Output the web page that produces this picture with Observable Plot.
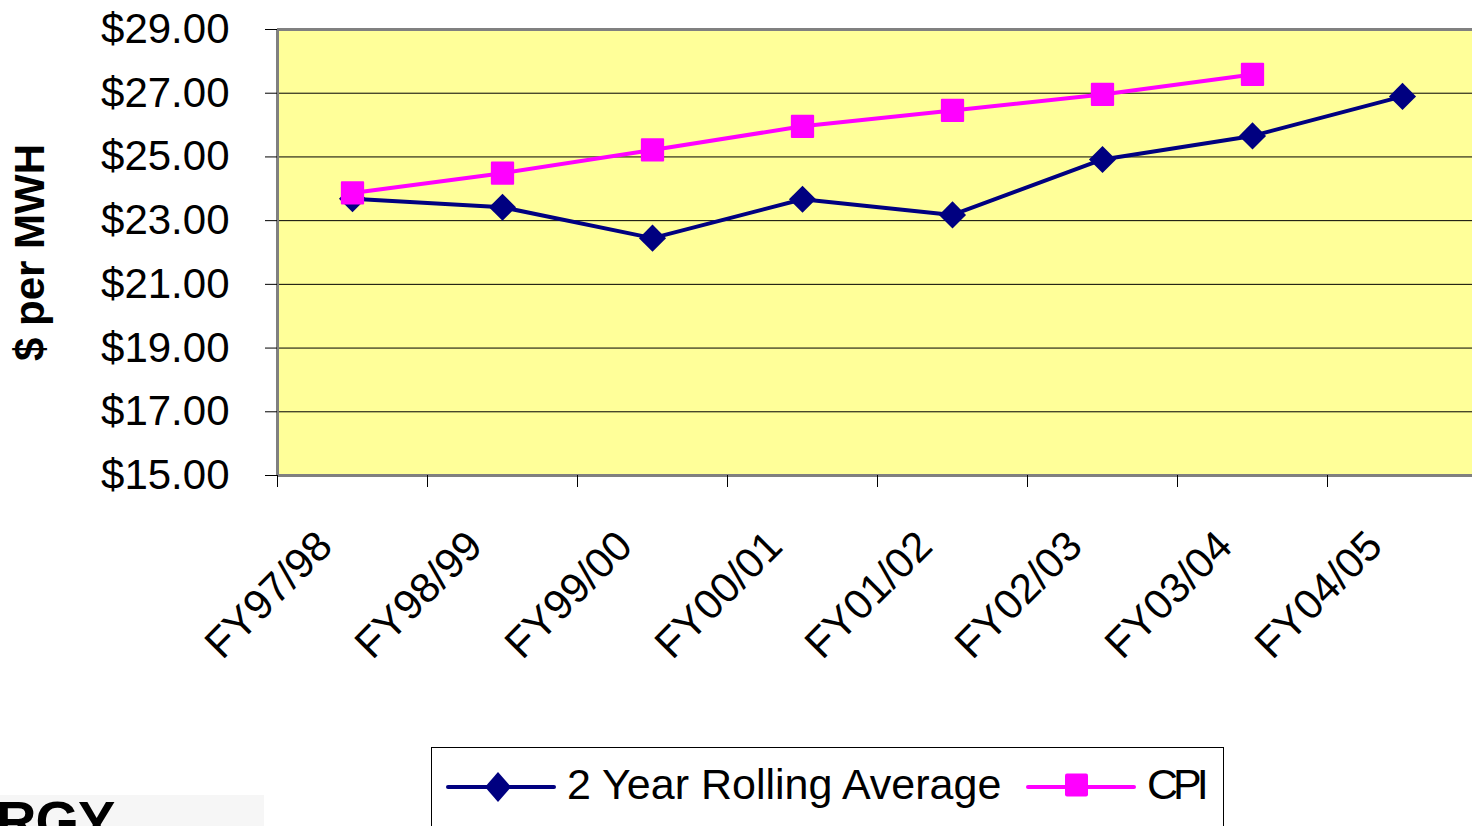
<!DOCTYPE html>
<html>
<head>
<meta charset="utf-8">
<script src="https://cdn.jsdelivr.net/npm/d3@7"></script>
<script src="https://cdn.jsdelivr.net/npm/@observablehq/plot@0.6"></script>
<style>
  html, body { margin: 0; padding: 0; background: #fff; overflow: hidden; width: 1472px; height: 826px; }
  body { position: relative; font-family: "Liberation Sans", Arial, sans-serif; color: #000; }
  #chart { position: absolute; left: 0; top: 0; }
  #legend {
    position: absolute; left: 431px; top: 747px; width: 793px; height: 110px;
    border: 1px solid #000; box-sizing: border-box; background: #fff;
  }
  #legend .label { position: absolute; top: 14.5px; font-size: 43px; line-height: 1; white-space: nowrap; }
  #legend svg { position: absolute; top: 19px; display: block; }
  #logo-box { position: absolute; left: 0; top: 795px; width: 264px; height: 40px; background: #f6f6f6; }
  #logo { position: absolute; left: -4px; top: 793px; font-size: 56px; font-weight: bold; line-height: 1; letter-spacing: -1px; }
</style>
</head>
<body>
<div id="chart"></div>
<div id="logo-box"></div>
<div id="logo">RGY</div>
<div id="legend"></div>
<script>
// Fiscal years and the two price series ($ per MWh)
const years = ["FY97/98", "FY98/99", "FY99/00", "FY00/01", "FY01/02", "FY02/03", "FY03/04", "FY04/05"];
const rollingAverage = [23.69, 23.42, 22.45, 23.67, 23.18, 24.92, 25.66, 26.90];
const cpi = [23.87, 24.49, 25.22, 25.96, 26.46, 26.96, 27.59];
const yTicks = [15, 17, 19, 21, 23, 25, 27, 29];
const gridTicks = [17, 19, 21, 23, 25, 27];

const seriesNames = ["2 Year Rolling Average", "CPI"];
const seriesColors = ["#000080", "#FF00FF"];

// Categories sit at band centres (i + 0.5) on an index scale so the
// tick marks can fall on the band boundaries.
const raRows = rollingAverage.map((value, i) => ({year: years[i], pos: i + 0.5, value}));
const cpiRows = cpi.map((value, i) => ({year: years[i], pos: i + 0.5, value}));

const font = "'Liberation Sans', Arial, sans-serif";

const chart = Plot.plot({
  width: 1472,
  height: 740,
  marginLeft: 277,
  marginRight: -5,
  marginTop: 29,
  marginBottom: 265,
  style: {fontFamily: font, background: "transparent", color: "#000", overflow: "visible"},
  x: {domain: [0, years.length]},
  y: {domain: [yTicks[0], yTicks[yTicks.length - 1]]},
  marks: [
    Plot.frame({fill: "#FFFF99", stroke: "none"}),
    Plot.ruleY(gridTicks, {stroke: "#000", strokeWidth: 1}),
    Plot.ruleY(d3.extent(yTicks), {stroke: "#808080", strokeWidth: 3}),
    Plot.ruleX([0], {stroke: "#808080", strokeWidth: 3}),
    Plot.axisY({
      ticks: yTicks, tickSize: 12, tickPadding: 36, fontSize: 42,
      tickFormat: d => `$${d.toFixed(2)}`, label: null, stroke: "#000"
    }),
    Plot.axisX({
      ticks: d3.range(0, years.length + 1), tickSize: 12,
      tickFormat: () => "", label: null, stroke: "#000"
    }),
    Plot.text(years, {
      x: (d, i) => i + 0.5, frameAnchor: "bottom", rotate: -45,
      textAnchor: "end", lineAnchor: "bottom", dx: -18, dy: 73, fontSize: 42, fill: "#000"
    }),
    Plot.text(["$ per MWH"], {
      frameAnchor: "left", textAnchor: "middle", lineAnchor: "middle", rotate: -90,
      dx: -247, fontSize: 42, fontWeight: "bold", fill: "#000"
    }),
    Plot.line(raRows, {x: "pos", y: "value", stroke: seriesColors[0], strokeWidth: 4}),
    Plot.dot(raRows, {x: "pos", y: "value", symbol: "diamond2", r: 12.2, fill: seriesColors[0], stroke: "none"}),
    Plot.line(cpiRows, {x: "pos", y: "value", stroke: seriesColors[1], strokeWidth: 4}),
    Plot.dot(cpiRows, {
      x: "pos", y: "value", symbol: "square", r: 12, fill: seriesColors[1],
      stroke: seriesColors[1], strokeWidth: 2, strokeLinejoin: "round"
    })
  ]
});
document.getElementById("chart").appendChild(chart);

// Legend: line-and-marker swatch followed by the series name
const legend = document.getElementById("legend");
const swatchLeft = [14, 594];
const labelLeft = [135, 715];
const labelSpacing = ["0px", "-5px"];
seriesNames.forEach((name, k) => {
  const sw = d3.create("svg").attr("width", 112).attr("height", 40).style("left", `${swatchLeft[k]}px`);
  sw.append("line").attr("x1", 2).attr("x2", 108).attr("y1", 20).attr("y2", 20)
    .attr("stroke", seriesColors[k]).attr("stroke-width", 4).attr("stroke-linecap", "round");
  if (k === 0) {
    sw.append("path").attr("d", "M52,5L65,20L52,35L39,20Z").attr("fill", seriesColors[k]);
  } else {
    sw.append("rect").attr("x", 39).attr("y", 6.5).attr("width", 23).attr("height", 23).attr("rx", 2)
      .attr("fill", seriesColors[k]);
  }
  legend.appendChild(sw.node());
  const label = document.createElement("span");
  label.className = "label";
  label.style.left = `${labelLeft[k]}px`;
  label.style.letterSpacing = labelSpacing[k];
  label.textContent = name;
  legend.appendChild(label);
});
</script>
</body>
</html>
